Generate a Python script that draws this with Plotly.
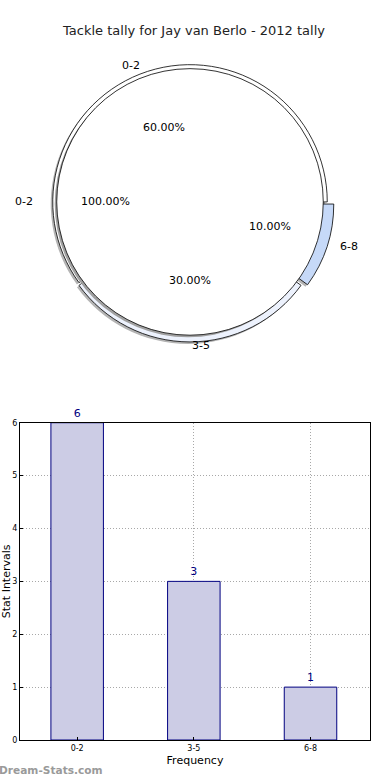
import plotly.graph_objects as go
import numpy as np

# ---- data ----
categories = ["0-2", "3-5", "6-8"]
counts = [6, 3, 1]
inner_labels = ["0-2"]
inner_values = [1]
outer_colors = ["#ffffff", "#edf2fd", "#c6d9f8"]
outer_pull = [0.0, 0.02, 0.05]
title_text = "Tackle tally for Jay van Berlo - 2012 tally"

W, H = 390, 780
ML, MR, MT, MB = 20, 20, 0, 40
PW, PH = W - ML - MR, H - MT - MB


def px2x(px):
    return (px - ML) / PW


def py2y(py):
    return (H - MB - py) / PH


CX, CY = 190, 199          # pie centre (pixels)
RI, RO = 134, 138          # inner / outer radius (pixels)
maxpull = max(outer_pull)


def dom(cx, cy, r, pull=0.0):
    half = r * (1 + pull)
    return dict(x=[px2x(cx - half), px2x(cx + half)],
                y=[py2y(cy + half), py2y(cy - half)])


# first slice starts at 3 o'clock and runs counter-clockwise
first_frac = counts[0] / sum(counts)
rot = 90 - first_frac * 360  # plotly: first slice occupies [rotation, rotation+size] clockwise

fig = go.Figure()

common = dict(sort=False, direction="counterclockwise", rotation=rot,
              textinfo="none", hoverinfo="label+percent", showlegend=False)

# shadow of outer pie
fig.add_trace(go.Pie(labels=categories, values=counts, pull=outer_pull,
                     marker=dict(colors=["#b4b4b4"] * 3, line=dict(width=0)),
                     domain=dom(CX - 2, CY + 2, RO, maxpull), **common))
# outer pie
fig.add_trace(go.Pie(labels=categories, values=counts, pull=outer_pull,
                     marker=dict(colors=outer_colors, line=dict(color="black", width=0.8)),
                     domain=dom(CX, CY, RO, maxpull), **common))
# shadow of inner pie
fig.add_trace(go.Pie(labels=inner_labels, values=inner_values, rotation=0,
                     sort=False, direction="counterclockwise", textinfo="none",
                     hoverinfo="skip", showlegend=False,
                     marker=dict(colors=["#a0a0a0"], line=dict(width=0)),
                     domain=dom(CX - 2, CY + 2, RI)))
# inner pie
fig.add_trace(go.Pie(labels=inner_labels, values=inner_values, rotation=0,
                     sort=False, direction="counterclockwise", textinfo="none",
                     hoverinfo="label+percent", showlegend=False,
                     marker=dict(colors=["#ffffff"], line=dict(color="black", width=0.8)),
                     domain=dom(CX, CY, RI)))

# bar chart
fig.add_trace(go.Bar(x=categories, y=counts, width=0.45,
                     marker=dict(color="#cccce5", line=dict(color="#000080", width=1)),
                     text=[str(c) for c in counts], textposition="outside",
                     textfont=dict(color="#000080", size=11, family="DejaVu Sans"),
                     cliponaxis=False, showlegend=False,
                     xaxis="x", yaxis="y"))

annotations = []
# pie text annotations (matplotlib style: pct at 0.6R, labels at 1.1R)
RX, RY = 141, 131  # label radii following the reference's layout


def add_pie_text(labels, values, start=0.0):
    tot = float(sum(values))
    ang = start
    for lab, v in zip(labels, values):
        frac = v / tot
        mid = np.deg2rad(ang + frac * 180.0)
        ang += frac * 360.0
        c, s = np.cos(mid), np.sin(mid)
        annotations.append(dict(x=px2x(CX + 0.6 * RX * c), y=py2y(CY - 0.6 * RY * s),
                                xref="paper", yref="paper", showarrow=False,
                                text=f"{frac * 100:.2f}%", xanchor="center", yanchor="middle",
                                font=dict(size=11, color="black", family="DejaVu Sans")))
        annotations.append(dict(x=px2x(CX + 1.1 * RX * c), y=py2y(CY - 1.1 * RY * s),
                                xref="paper", yref="paper", showarrow=False,
                                text=lab, xanchor="left" if c >= -1e-9 else "right",
                                yanchor="middle",
                                font=dict(size=11, color="black", family="DejaVu Sans")))


add_pie_text(categories, counts)
add_pie_text(inner_labels, inner_values)

annotations.append(dict(x=px2x(-3), y=py2y(770), xref="paper", yref="paper",
                        showarrow=False, text="<b>Dream-Stats.com</b>",
                        xanchor="left", yanchor="middle",
                        font=dict(size=10.6, color="#9a9a9a", family="DejaVu Sans")))

grid = dict(showgrid=True, gridcolor="#a8a8a8", griddash="1px,2px", gridwidth=1)

fig.update_layout(
    width=W, height=H,
    margin=dict(l=ML, r=MR, t=MT, b=MB),
    paper_bgcolor="white", plot_bgcolor="white",
    title=dict(text=title_text, x=194 / W, xanchor="center", y=1 - 30 / H,
               yanchor="middle", xref="container", yref="container",
               font=dict(size=13, color="#222222", family="DejaVu Sans")),
    font=dict(family="DejaVu Sans", color="black"),
    annotations=annotations,
    xaxis=dict(domain=[0, 1], range=[-0.49, 2.51], type="category",
               showline=True, mirror=True, linecolor="black", linewidth=1,
               layer="above traces",
               ticks="inside", ticklen=3, tickcolor="black",
               tickfont=dict(size=8, color="black"),
               title=dict(text="Frequency", font=dict(size=11), standoff=4),
               zeroline=False, fixedrange=True, **grid),
    yaxis=dict(domain=[0, py2y(421)], range=[0, 6], dtick=1,
               showline=True, mirror=True, linecolor="black", linewidth=1,
               ticks="inside", ticklen=3, tickcolor="black",
               tickfont=dict(size=8, color="black"),
               title=dict(text="Stat Intervals", font=dict(size=11), standoff=2),
               zeroline=False, fixedrange=True, **grid),
)

fig.write_html("out.html", config={"displayModeBar": False},
               post_script="document.body.style.margin='0px';document.body.style.overflow='hidden';")
